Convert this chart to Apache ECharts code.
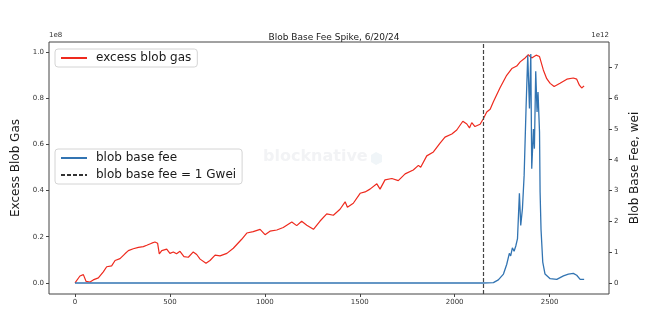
<!DOCTYPE html>
<html>
<head>
<meta charset="utf-8">
<script src="https://cdn.jsdelivr.net/npm/echarts@6/dist/echarts.min.js"></script>
<style>html,body{margin:0;padding:0;background:#fff;}#c{width:662px;height:326px;}</style>
</head>
<body>
<div id="c"></div>
<script>
// ---- data ----
const title = 'Blob Base Fee Spike, 6/20/24';
const xTicks = [0, 500, 1000, 1500, 2000, 2500];
const leftTicks = [0, 0.2, 0.4, 0.6, 0.8, 1.0];      // x 1e8
const rightTicks = [0, 1, 2, 3, 4, 5, 6, 7];         // x 1e12
const oneGweiBlock = 2150;
// excess blob gas, [block index, value in 1e8]
const excessBlobGas = [
  [0,0],[26,0.03],[44,0.036],[53,0.033],[58,0.007],[79,0.004],[96,0.013],[123,0.022],[149,0.048],[167,0.07],
  [193,0.074],[211,0.097],[237,0.105],[263,0.126],[281,0.14],[307,0.148],[334,0.154],[360,0.157],[378,0.163],
  [404,0.172],[421,0.177],[435,0.172],[444,0.126],[457,0.14],[483,0.146],[500,0.128],[518,0.134],[535,0.126],
  [553,0.137],[574,0.114],[597,0.111],[623,0.134],[641,0.123],[659,0.103],[690,0.085],[711,0.097],[738,0.12],
  [764,0.117],[800,0.128],[834,0.15],[878,0.189],[905,0.216],[939,0.222],[975,0.232],[1001,0.209],[1027,0.224],
  [1063,0.229],[1097,0.24],[1142,0.264],[1168,0.248],[1194,0.267],[1221,0.25],[1256,0.232],[1291,0.268],
  [1326,0.299],[1361,0.293],[1396,0.319],[1423,0.351],[1435,0.328],[1466,0.345],[1502,0.388],[1528,0.394],
  [1554,0.406],[1590,0.429],[1607,0.406],[1633,0.446],[1669,0.452],[1703,0.443],[1739,0.472],[1782,0.489],
  [1809,0.509],[1821,0.501],[1853,0.55],[1888,0.567],[1923,0.605],[1949,0.631],[1985,0.645],[2011,0.662],
  [2043,0.7],[2064,0.688],[2078,0.671],[2090,0.694],[2107,0.677],[2134,0.687],[2151,0.711],[2169,0.74],
  [2187,0.752],[2204,0.784],[2239,0.845],[2274,0.899],[2301,0.928],[2327,0.939],[2345,0.957],[2371,0.974],
  [2388,0.988],[2406,0.974],[2429,0.986],[2447,0.98],[2467,0.922],[2485,0.884],[2503,0.864],[2524,0.85],
  [2555,0.864],[2591,0.882],[2625,0.887],[2643,0.882],[2657,0.856],[2669,0.844],[2682,0.853]
];
// blob base fee, [block index, value in 1e12 wei]
const blobBaseFee = [
  [0,0],[2150,0],[2204,0.01],[2230,0.1],[2257,0.29],[2274,0.6],[2288,0.96],[2295,0.88],[2304,1.14],[2313,1.03],
  [2322,1.2],[2331,1.44],[2341,2.91],[2348,1.87],[2357,2.41],[2366,3.5],[2376,5.66],[2385,7.39],[2394,5.66],
  [2401,7.43],[2406,3.71],[2415,5.0],[2420,4.36],[2427,6.87],[2434,5.55],[2439,6.2],[2447,4.9],[2450,2.95],
  [2455,1.73],[2464,0.68],[2476,0.29],[2503,0.14],[2538,0.12],[2573,0.23],[2599,0.29],[2625,0.31],[2643,0.25],
  [2661,0.12],[2682,0.12]
];

// ---- chart ----
const FONT = 'DejaVu Sans';
const TICK_FS = 7;
const chart = echarts.init(document.getElementById('c'), null, {renderer: 'canvas'});
const legendBox = {
  backgroundColor: '#fff', borderColor: '#d4d4d4', borderWidth: 1, borderRadius: 3,
  itemWidth: 26, itemHeight: 14,
  itemStyle: {opacity: 0},
  textStyle: {fontFamily: FONT, fontSize: 12, color: '#1a1a1a', padding: [0, 0, 0, 4]}
};
const tickStyle = {show: true, length: 3, lineStyle: {color: '#444'}};
chart.setOption({
  animation: false,
  textStyle: {fontFamily: FONT},
  title: {
    text: title, left: 329, top: 28, textAlign: 'center',
    textStyle: {fontFamily: FONT, fontSize: 9, fontWeight: 'normal', color: '#1a1a1a'}
  },
  grid: {left: 49, right: 53, top: 42, bottom: 32, show: true, borderColor: '#444', borderWidth: 1, containLabel: false},
  legend: [
    Object.assign({}, legendBox, {
      data: ['excess blob gas'], left: 55, top: 49, padding: [3, 6, 3, 5]
    }),
    Object.assign({}, legendBox, {
      data: ['blob base fee', 'blob base fee = 1 Gwei'], orient: 'vertical',
      left: 55, top: 149, padding: [3, 6, 3, 5], itemGap: 5
    })
  ],
  xAxis: {
    type: 'value', min: -137, max: 2813,
    axisLine: {show: false, onZero: false},
    splitLine: {show: false},
    axisTick: Object.assign({customValues: xTicks}, tickStyle),
    axisLabel: {customValues: xTicks, fontSize: TICK_FS, color: '#333', margin: 5, fontFamily: FONT,
      formatter: v => String(v)}
  },
  yAxis: [
    {
      type: 'value', min: -0.048, max: 1.043, position: 'left',
      name: 'Excess Blob Gas', nameLocation: 'middle', nameGap: 22,
      nameTextStyle: {fontFamily: FONT, fontSize: 12, color: '#1a1a1a'},
      axisLine: {show: false, onZero: false}, splitLine: {show: false},
      axisTick: Object.assign({customValues: leftTicks}, tickStyle),
      axisLabel: {customValues: leftTicks, fontSize: TICK_FS, color: '#333', margin: 5, fontFamily: FONT,
        formatter: v => v.toFixed(1)}
    },
    {
      type: 'value', min: -0.357, max: 7.82, position: 'right',
      name: 'Blob Base Fee, wei', nameLocation: 'middle', nameGap: 15,
      nameTextStyle: {fontFamily: FONT, fontSize: 12, color: '#1a1a1a'},
      axisLine: {show: false, onZero: false}, splitLine: {show: false},
      axisTick: Object.assign({customValues: rightTicks}, tickStyle),
      axisLabel: {customValues: rightTicks, fontSize: TICK_FS, color: '#333', margin: 5, fontFamily: FONT,
        formatter: v => String(Math.round(v))}
    }
  ],
  graphic: [
    {type: 'text', left: 49, top: 32, style: {text: '1e8', font: '7px "DejaVu Sans"', fill: '#333'}},
    {type: 'text', right: 53, top: 32, style: {text: '1e12', font: '7px "DejaVu Sans"', fill: '#333', textAlign: 'right'}},
    {type: 'text', left: 263, top: 149, z: 0, style: {text: 'blocknative', font: 'bold 16px "DejaVu Sans"', fill: '#f2f3f5'}},
    {type: 'polygon', left: 371, top: 152, z: 0, shape: {points: [[5,0],[11,3],[11,10],[5,13],[0,10],[0,3]]}, style: {fill: '#f0f5f8'}}
  ],
  series: [
    {
      name: 'excess blob gas', type: 'line', yAxisIndex: 0, data: excessBlobGas,
      symbol: 'none', lineStyle: {color: '#ee2a1e', width: 1.2}, itemStyle: {color: '#ee2a1e'}, z: 2
    },
    {
      name: 'blob base fee', type: 'line', yAxisIndex: 1, data: blobBaseFee,
      symbol: 'none', lineStyle: {color: '#3274b2', width: 1.3}, itemStyle: {color: '#3274b2'}, z: 3
    },
    {
      name: 'blob base fee = 1 Gwei', type: 'line', yAxisIndex: 0, data: [],
      symbol: 'none', lineStyle: {color: '#333', width: 1.2, type: [4, 2]}, itemStyle: {color: '#333'}, z: 4,
      markLine: {
        silent: true, symbol: ['none', 'none'], label: {show: false},
        lineStyle: {color: '#444', width: 1.2, type: [4, 2]},
        data: [{xAxis: oneGweiBlock}]
      }
    }
  ]
});
</script>
</body>
</html>
